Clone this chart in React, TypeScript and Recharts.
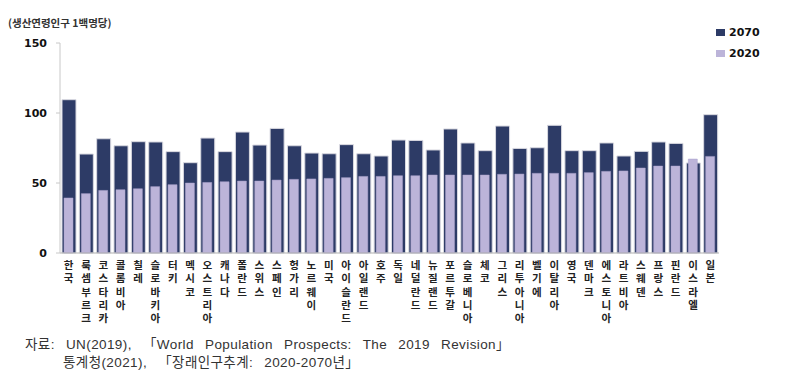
import { BarChart, Bar, XAxis, YAxis, Legend } from 'recharts';

const countries = [
  '한국', '룩셈부르크', '코스타리카', '콜롬비아', '칠레', '슬로바키아', '터키', '멕시코',
  '오스트리아', '캐나다', '폴란드', '스위스', '스페인', '헝가리', '노르웨이', '미국',
  '아이슬란드', '아일랜드', '호주', '독일', '네덜란드', '뉴질랜드', '포르투갈', '슬로베니아',
  '체코', '그리스', '리투아니아', '벨기에', '이탈리아', '영국', '덴마크', '에스토니아',
  '라트비아', '스웨덴', '프랑스', '핀란드', '이스라엘', '일본',
];

const values2070 = [
  109.5, 70.7, 81.6, 76.6, 79.5, 79.3, 72.4, 64.5,
  82.1, 72.4, 86.4, 77.1, 89.0, 76.6, 71.4, 70.9,
  77.4, 70.9, 69.3, 80.7, 80.4, 73.6, 88.6, 78.6,
  73.1, 90.7, 74.7, 75.2, 91.2, 73.1, 73.1, 78.6,
  69.3, 72.6, 79.3, 78.3, 64.3, 98.8,
];

const values2020 = [
  39.3, 42.4, 44.7, 45.2, 45.9, 47.4, 48.8, 50.0,
  50.4, 50.9, 51.4, 51.4, 52.1, 52.6, 52.9, 53.3,
  53.8, 54.7, 54.7, 55.2, 55.2, 55.7, 55.7, 55.7,
  55.7, 56.2, 56.4, 56.9, 56.9, 56.9, 57.4, 58.3,
  58.6, 60.7, 62.1, 62.1, 67.1, 69.0,
];

const yTicks = [0, 50, 100, 150];
const legendOrder = ['2070', '2020'];

const DARK = '#2D3B66';
const LIGHT = '#BCB4D9';

const data = countries.map((country, i) => ({
  country,
  y2070: values2070[i],
  y2020: values2020[i],
}));

// 세로로 한 글자씩 쌓는 x축 라벨
function VerticalTick(props: any) {
  const { x, y, payload } = props;
  const chars = Array.from(String(payload.value));
  return (
    <text
      x={x}
      y={y + 16}
      textAnchor="middle"
      fontSize={10.5}
      fontWeight={700}
      fill="#222"
      fontFamily="'Noto Sans CJK KR', sans-serif"
    >
      {chars.map((ch, i) => (
        <tspan key={i} x={x} dy={i === 0 ? 0 : 13.3}>
          {ch}
        </tspan>
      ))}
    </text>
  );
}

function LegendBox(props: any) {
  const items = [...(props.payload || [])].sort(
    (a: any, b: any) => legendOrder.indexOf(String(a.value)) - legendOrder.indexOf(String(b.value))
  );
  return (
    <div style={{ fontFamily: "'DejaVu Sans', sans-serif", fontSize: 11, fontWeight: 700, color: '#111' }}>
      {items.map((it: any) => (
        <div key={it.value} style={{ display: 'flex', alignItems: 'center', height: 21 }}>
          <span style={{ display: 'inline-block', width: 9, height: 7, background: it.color, marginRight: 4 }} />
          {it.value}
        </div>
      ))}
    </div>
  );
}

export default function App() {
  return (
    <div style={{ position: 'absolute', left: 0, top: 0, width: 785, height: 375, background: '#fff' }}>
      <div
        style={{
          position: 'absolute',
          left: 8,
          top: 15,
          fontSize: 10.5,
          fontWeight: 700,
          color: '#333',
          fontFamily: "'Noto Sans CJK KR', sans-serif",
          whiteSpace: 'nowrap',
        }}
      >
        (생산연령인구 1백명당)
      </div>
      <BarChart
        width={785}
        height={330}
        data={data}
        margin={{ top: 43, right: 6, left: 0, bottom: 0 }}
        barCategoryGap="10%"
      >
        <XAxis
          xAxisId="back"
          dataKey="country"
          interval={0}
          height={77}
          tickLine={false}
          tickSize={0}
          tickMargin={0}
          axisLine={{ stroke: '#b0b0b0' }}
          tick={<VerticalTick />}
        />
        <XAxis xAxisId="front" dataKey="country" hide />
        <YAxis
          width={60}
          domain={[0, 150]}
          ticks={yTicks}
          interval={0}
          axisLine={{ stroke: '#c8c8c8' }}
          tickLine={{ stroke: '#c8c8c8' }}
          tickSize={4}
          tickMargin={9}
          tick={{ fontSize: 11, fontWeight: 700, fill: '#111', fontFamily: "'DejaVu Sans', sans-serif" }}
        />
        <Legend
          layout="vertical"
          verticalAlign="top"
          align="right"
          wrapperStyle={{ position: 'absolute', top: 22, left: 716, width: 60 }}
          content={<LegendBox />}
        />
        <Bar
          xAxisId="back"
          dataKey="y2070"
          name="2070"
          fill={DARK}
          stroke="#d8d8e0"
          strokeWidth={1}
          barSize={14}
          isAnimationActive={false}
        />
        <Bar
          xAxisId="front"
          dataKey="y2020"
          name="2020"
          fill={LIGHT}
          stroke="#aaa3cc"
          strokeWidth={0.5}
          barSize={9}
          isAnimationActive={false}
        />
      </BarChart>
      <div
        style={{
          position: 'absolute',
          left: 25,
          top: 336,
          fontSize: 13.5,
          lineHeight: '18px',
          color: '#333',
          fontFamily: "'Liberation Sans', 'Noto Sans CJK KR', sans-serif",
          whiteSpace: 'nowrap',
          letterSpacing: 0.4,
          wordSpacing: 7,
        }}
      >
        <div>자료: UN(2019), 「World Population Prospects: The 2019 Revision」</div>
        <div style={{ paddingLeft: 38 }}>통계청(2021), 「장래인구추계: 2020-2070년」</div>
      </div>
    </div>
  );
}
